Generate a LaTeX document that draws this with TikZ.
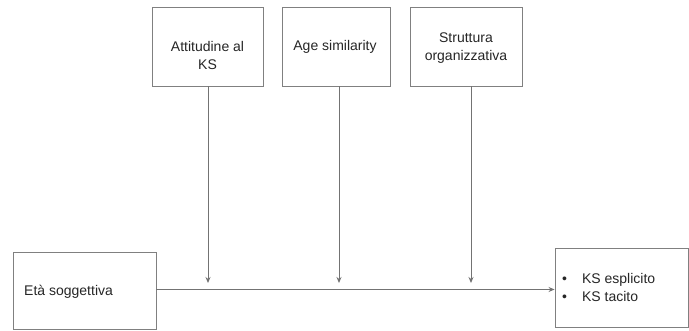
\documentclass[tikz,border=0pt]{standalone}
\usepackage{fontspec}
\setmainfont{Liberation Sans}
\usetikzlibrary{arrows.meta}
\begin{document}
\begin{tikzpicture}[x=1pt,y=1pt,
  box/.style={draw=black!50, line width=0.9pt, fill=white, inner sep=0pt},
  lbl/.style={font=\fontsize{14}{18}\selectfont, text=black!85, align=center, inner sep=0pt},
  conn/.style={draw=black!55, line width=0.9pt, -{Stealth[length=6pt,width=5pt]}}]
\fill[white] (0,0) rectangle (689,331);
\useasboundingbox (0,0) rectangle (689,331);
% top boxes
\node[box, minimum width=111pt, minimum height=79pt] (b1) at (207.5,284.5) {};
\node[box, minimum width=108pt, minimum height=79pt] (b2) at (336,284.5) {};
\node[box, minimum width=112pt, minimum height=79pt] (b3) at (466,284.5) {};
\node[lbl] (t1) at (207.5,275) {Attitudine al\\KS};
\node[lbl] (t2) at (335,284) {Age similarity};
\node[lbl] (t3) at (466,283) {Struttura\\organizzativa};
% bottom boxes
\node[box, minimum width=143pt, minimum height=77pt] (src) at (84.5,40.5) {};
\node[lbl, anchor=west] (ts) at (24,39) {Età soggettiva};
\node[box, minimum width=133pt, minimum height=79pt] (dst) at (621.5,43.5) {};
\node[lbl, anchor=west, align=left] (td) at (562,43) {\textbullet\hspace{15pt}KS esplicito\\\textbullet\hspace{15pt}KS tacito};
% connectors
\coordinate (e1) at (208,48);
\coordinate (e2) at (339,48);
\coordinate (e3) at (471,48);
\draw[conn] (b1.south -| e1) -- (e1);
\draw[conn] (b2.south -| e2) -- (e2);
\draw[conn] (b3.south -| e3) -- (e3);
\draw[conn] (src.east |- 0,41.5) -- (dst.west |- 0,41.5);
\end{tikzpicture}
\end{document}
